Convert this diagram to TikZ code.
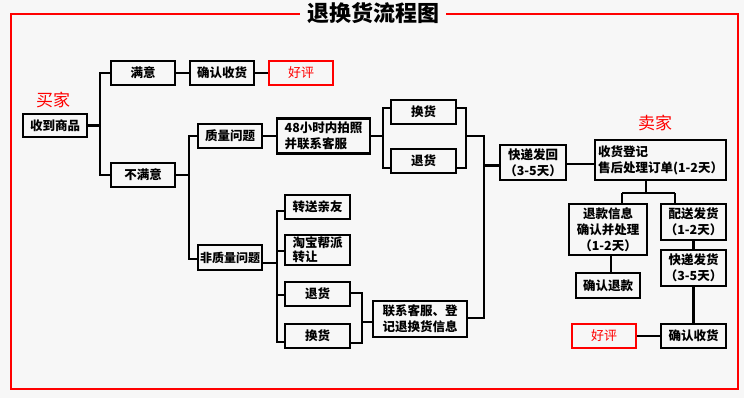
\documentclass[tikz,border=0pt]{standalone}
\usepackage{fontspec}
\setmainfont{Noto Sans CJK SC}
\definecolor{bg}{HTML}{F7F7F7}
\definecolor{rd}{HTML}{FF0000}
\begin{document}
\begin{tikzpicture}[x=1pt,y=-1pt,
  box/.style={draw=black, line width=2.4pt, inner sep=0pt, align=center,
    font=\fontsize{12.5}{16}\selectfont\bfseries},
  redbox/.style={box, draw=rd, text=rd, font=\fontsize{13}{16}\selectfont},
  ln/.style={line width=2.2pt},
  lbl/.style={text=rd, font=\fontsize{17}{17}\selectfont}]
\fill[bg] (0,0) rectangle (744,398);
\useasboundingbox (0,0) rectangle (744,398);
\draw[rd, line width=2.2pt] (11,14) rectangle (738,389);
\node[fill=bg, inner xsep=7pt, inner ysep=1pt, font=\fontsize{22}{22}\selectfont\bfseries] (title) at (373,13) {退换货流程图};

\node[lbl] (buyer) at (53,100) {买家};
\node[lbl] (seller) at (655,123) {卖家};

\node[box, minimum width=64pt, minimum height=23pt] (sd) at (55,125.5) {收到商品};
\node[box, minimum width=64pt, minimum height=24pt] (my) at (143,73) {满意};
\node[box, minimum width=64pt, minimum height=24pt] (qr1) at (222,73) {确认收货};
\node[redbox, minimum width=64pt, minimum height=24pt] (hp1) at (301,73) {好评};
\node[box, minimum width=64pt, minimum height=24pt] (bmy) at (143,175) {不满意};
\node[box, minimum width=64pt, minimum height=24pt] (zl) at (230,136) {质量问题};
\node[box, minimum width=93pt, minimum height=35pt, align=left] (h48) at (323.5,136) {48小时内拍照\\并联系客服};
\node[box, minimum width=64pt, minimum height=25pt, font=\fontsize{12}{16}\selectfont\bfseries] (fzl) at (230,257.5) {非质量问题};
\node[box, minimum width=65pt, minimum height=24pt] (zs) at (317.5,207) {转送亲友};
\node[box, minimum width=65pt, minimum height=30pt, align=left, font=\fontsize{12.5}{14}\selectfont\bfseries] (tb) at (317.5,250) {淘宝帮派\\转让};
\node[box, minimum width=65pt, minimum height=24pt] (th2) at (317.5,294) {退货};
\node[box, minimum width=65pt, minimum height=24pt] (hh2) at (317.5,336) {换货};
\node[box, minimum width=94pt, minimum height=36pt, align=left] (lx) at (420,319) {联系客服、登\\记退换货信息};
\node[box, minimum width=65pt, minimum height=24pt] (hh1) at (423.5,112) {换货};
\node[box, minimum width=65pt, minimum height=24pt] (th1) at (423.5,161) {退货};
\node[box, minimum width=66pt, minimum height=35pt] (kd) at (533,162.5) {快递发回\\（3-5天）};
\node[box, minimum width=131pt, minimum height=40pt, align=left] (sh) at (660.5,160) {收货登记\\售后处理订单(1-2天）};
\node[box, minimum width=78pt, minimum height=51pt] (tk) at (608,229.5) {退款信息\\确认并处理\\（1-2天）};
\node[box, minimum width=65pt, minimum height=36pt] (ps) at (693.5,222) {配送发货\\（1-2天）};
\node[box, minimum width=65pt, minimum height=36pt] (kf) at (693.5,268) {快递发货\\（3-5天）};
\node[box, minimum width=64pt, minimum height=25pt] (qtk) at (608,285.5) {确认退款};
\node[box, minimum width=65pt, minimum height=24pt] (qr2) at (693.5,336) {确认收货};
\node[redbox, minimum width=64pt, minimum height=24pt] (hp2) at (604,336) {好评};

% buyer side
\coordinate (j1) at (100,125.5);
\draw[ln] (sd.east) -- (j1);
\draw[ln] (my.west) -| (j1) |- (bmy.west);
\draw[ln] (my) -- (qr1);
\draw[ln] (qr1) -- (hp1);
\coordinate (j2) at (189,175);
\draw[ln] (bmy.east) -- (j2);
\draw[ln] (zl.west) -| (j2) |- ([yshift=-1.5pt]fzl.west);
\draw[ln] (zl.east) -- (zl.east -| h48.west);
\coordinate (j3) at (383,136);
\draw[ln] (h48.east) -- (j3);
\draw[ln] ([yshift=4pt]hh1.west) -| (j3) |- ([yshift=-7pt]th1.west);
\coordinate (j4) at (466,136);
\draw[ln] ([yshift=4pt]hh1.east) -| (j4) |- ([yshift=-7pt]th1.east);
\coordinate (j5) at (484,136);
\draw[ln] (j4) -- (j5) |- ([yshift=1pt]lx.east);
\draw[ln] ([yshift=-3pt]kd.west) -| (j5);
\draw[ln] ([yshift=-1.5pt]kd.east) -- ([yshift=-1.5pt]kd.east -| sh.west);
% non-quality
\coordinate (j6) at (277,263);
\draw[ln] ([yshift=-5.5pt]fzl.east) -- (j6);
\draw[ln] ([yshift=-4pt]zs.west) -| (j6) |- ([yshift=-6pt]hh2.west);
\draw[ln] ([yshift=-1pt]tb.west) -| (j6);
\draw[ln] ([yshift=-1pt]th2.west) -| (j6);
\coordinate (j7) at (362,322);
\draw[ln] ([yshift=1pt]th2.east) -| (j7) |- ([yshift=-7pt]hh2.east);
\draw[ln] (j7) -- (j7 -| lx.west);
% seller
\coordinate (j8) at (646,193);
\coordinate (j8a) at (622,193);
\coordinate (j8b) at (675,193);
\draw[ln] (j8 |- sh.south) -- (j8);
\draw[ln] (j8a) -- (j8b);
\draw[ln] (j8a) -- (j8a |- tk.north);
\draw[ln] (j8b) -- (j8b |- ps.north);
\draw[ln] ([xshift=3pt]tk.south) -- ([xshift=3pt]qtk.north);
\draw[ln] (ps.south) -- (kf.north);
\draw[ln] (kf.south) -- (qr2.north);
\draw[ln] (qr2.west) -- (hp2.east);
\end{tikzpicture}
\end{document}
